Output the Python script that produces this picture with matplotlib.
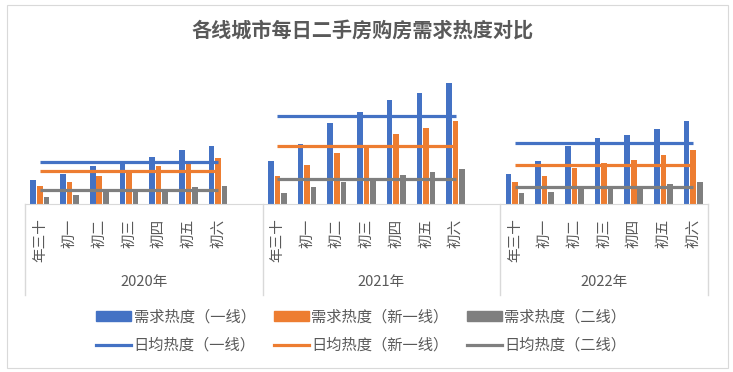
import numpy as np
import matplotlib.pyplot as plt
from matplotlib.lines import Line2D
from matplotlib.patches import Patch

plt.rcParams['font.family'] = ['Noto Sans CJK SC', 'DejaVu Sans']

years = ['2020年', '2021年', '2022年']
days = ['年三十', '初一', '初二', '初三', '初四', '初五', '初六']

# demand heat per day, one list per year
tier1 = [[24, 30, 38, 42, 47, 54, 58],
         [43, 60, 81, 92, 104, 111, 121],
         [30, 43, 58, 66, 69, 75, 83]]
newtier1 = [[18, 22, 28, 34, 38, 40, 46],
            [28, 39, 51, 57, 70, 76, 83],
            [22, 28, 36, 41, 44, 49, 54]]
tier2 = [[7, 9, 13, 13, 13, 17, 18],
         [11, 17, 22, 24, 29, 32, 35],
         [11, 12, 17, 17, 18, 20, 22]]

# daily average lines
avg_tier1 = [41.7, 87.7, 60.7]
avg_newtier1 = [32.7, 57.7, 38.7]
avg_tier2 = [13.7, 24.7, 16.7]

c_blue = '#4472C4'
c_orange = '#ED7D31'
c_gray = '#7F7F7F'
txt = '#595959'

fig = plt.figure(figsize=(7.33, 3.72), dpi=100)
ax = fig.add_axes([25/733, 1-204/372, 683/733, 150/372])

slot = len(days) + 1  # one empty slot between years
w = 0.19
off = 0.22
ticks, ticklabels = [], []
for g in range(len(years)):
    x = np.arange(len(days)) + g*slot
    ax.bar(x - off, tier1[g], w, color=c_blue, zorder=2)
    ax.bar(x, newtier1[g], w, color=c_orange, zorder=2)
    ax.bar(x + off, tier2[g], w, color=c_gray, zorder=2)
    ax.plot([x[0], x[-1]], [avg_tier1[g]]*2, color=c_blue, lw=2.3, zorder=3, solid_capstyle='butt')
    ax.plot([x[0], x[-1]], [avg_newtier1[g]]*2, color=c_orange, lw=2.3, zorder=3, solid_capstyle='butt')
    ax.plot([x[0], x[-1]], [avg_tier2[g]]*2, color=c_gray, lw=2.3, zorder=3, solid_capstyle='butt')
    ticks += list(x)
    ticklabels += days

n_slots = len(years)*slot - 1
ax.set_xlim(-0.5, n_slots - 0.5)
ax.set_ylim(0, 150)

ax.set_xticks(ticks)
ax.set_xticklabels(ticklabels, rotation=90, va='top', ha='center', color=txt, fontsize=10.5)
ax.tick_params(axis='x', length=0, pad=10.5)
ax.set_yticks([])
for s in ['top', 'right', 'left']:
    ax.spines[s].set_visible(False)
ax.spines['bottom'].set_color('#D9D9D9')

# group separators and year labels
edges = [-0.5 + g*slot for g in range(len(years))] + [n_slots - 0.5]
for e in edges:
    ax.plot([e, e], [0, -0.607], transform=ax.get_xaxis_transform(), clip_on=False,
            color='#D9D9D9', lw=1)
for g, yr in enumerate(years):
    xc = (edges[g] + edges[g+1]) / 2
    ax.annotate(yr, xy=(xc, 0), xycoords=('data', 'axes fraction'),
                xytext=(0, -56), textcoords='offset points',
                ha='center', va='center', color=txt, fontsize=10.5)

fig.text(0.495, 1-30/372, '各线城市每日二手房购房需求热度对比', ha='center', va='center',
         fontsize=14.5, fontweight='bold', color=txt)

handles = [Patch(color=c_blue), Line2D([], [], color=c_blue, lw=2.3),
           Patch(color=c_orange), Line2D([], [], color=c_orange, lw=2.3),
           Patch(color=c_gray), Line2D([], [], color=c_gray, lw=2.3)]
labels = ['需求热度（一线）', '日均热度（一线）',
          '需求热度（新一线）', '日均热度（新一线）',
          '需求热度（二线）', '日均热度（二线）']
leg = fig.legend(handles, labels, ncol=3, loc='center', bbox_to_anchor=(0.493, 0.11),
                 frameon=False, fontsize=11, handlelength=2.3, handleheight=0.6,
                 handletextpad=0.15, columnspacing=1.2, labelspacing=0.75)
for t in leg.get_texts():
    t.set_color(txt)

fig.add_artist(plt.Rectangle((7/733, 1-368/372), 721/733, 363/372, transform=fig.transFigure,
                             fill=False, edgecolor='#D9D9D9', lw=0.8))

fig.savefig('out.png', dpi=100)
